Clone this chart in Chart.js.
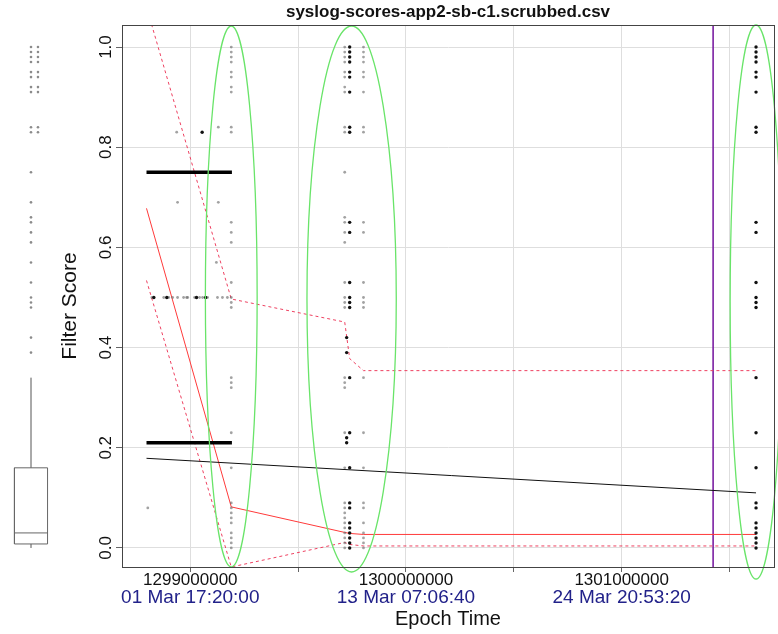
<!DOCTYPE html>
<html>
<head>
<meta charset="utf-8">
<script src="https://cdn.jsdelivr.net/npm/chart.js@4.4.1/dist/chart.umd.min.js"></script>
<style>
  body { margin: 0; background: #fff; }
  #wrap { position: relative; width: 778px; height: 634px; }
  #scores, #box { position: absolute; left: 0; top: 0; }
</style>
</head>
<body>
<div id="wrap">
  <canvas id="scores" width="778" height="634"></canvas>
  <canvas id="box" width="62" height="634"></canvas>
</div>
<script>
// axis ranges (epoch seconds / score)
const X_MIN = 1298683400, X_MAX = 1301706300;
const Y_MIN = -0.038, Y_MAX = 1.044;
const xTickValues = [1299000000, 1299500000, 1300000000, 1300500000, 1301000000, 1301500000];
const yTickValues = [0, 0.2, 0.4, 0.6, 0.8, 1.0];

// scattered scores before the first burst
const earlyTimes = [1298803000, 1298822000, 1298877000, 1298900000, 1298918000, 1298937000, 1298941000, 1298941000,
  1298969000, 1298983000, 1298988000, 1299020000, 1299043000, 1299057000, 1299080000, 1299121000, 1299126000,
  1299130000, 1299130000, 1299149000, 1299172000];
const earlyScores = [0.08, 0.50, 0.50, 0.50, 0.50, 0.83, 0.69, 0.50,
  0.50, 0.50, 0.50, 0.50, 0.50, 0.50, 0.50, 0.57, 0.50,
  0.84, 0.69, 0.50, 0.50];
const earlyDarkTimes = [1298831000, 1298891000, 1299029000, 1299055000, 1299071000];
const earlyDarkScores = [0.50, 0.50, 0.50, 0.83, 0.50];

// bursts
const burstATime = 1299190000;
const burstAScores = [1.0, 0.99, 0.98, 0.97, 0.95, 0.94, 0.92, 0.91, 0.84, 0.83, 0.65, 0.63, 0.61, 0.53, 0.50,
  0.49, 0.48, 0.34, 0.33, 0.32, 0.23, 0.16, 0.09, 0.08, 0.07, 0.06, 0.05, 0.03, 0.02, 0.01, 0.0];
const burstBTimes = [1299716000, 1299725000, 1299739000, 1299803000];
const burstBScoresFirst = [1.0, 0.99, 0.98, 0.97, 0.95, 0.94, 0.92, 0.91, 0.84, 0.83, 0.75, 0.66, 0.65, 0.63, 0.61,
  0.53, 0.50, 0.49, 0.48, 0.34, 0.33, 0.32, 0.23, 0.16, 0.09, 0.08, 0.07, 0.06, 0.05, 0.04, 0.03, 0.02, 0.01, 0.0];
const burstBScoresSingle = [0.42, 0.39, 0.22, 0.21];
const burstBScoresDense = [1.0, 0.99, 0.98, 0.97, 0.95, 0.94, 0.91, 0.84, 0.83, 0.65, 0.63, 0.53, 0.50, 0.49, 0.48,
  0.34, 0.23, 0.16, 0.09, 0.08, 0.05, 0.04, 0.03, 0.02, 0.01, 0.0];
const burstBScoresLast = [1.0, 0.99, 0.98, 0.97, 0.95, 0.94, 0.91, 0.84, 0.83, 0.65, 0.63, 0.53, 0.50, 0.49, 0.48,
  0.34, 0.23, 0.16, 0.09, 0.08, 0.05, 0.03, 0.02, 0.01, 0.0];
const burstCTime = 1301623000;
const burstCScores = [1.0, 0.99, 0.98, 0.97, 0.95, 0.94, 0.91, 0.84, 0.83, 0.65, 0.63, 0.53, 0.50, 0.49, 0.48,
  0.34, 0.23, 0.16, 0.09, 0.08, 0.05, 0.04, 0.03, 0.02, 0.01, 0.0];

// level bars over the training window
const levelTimes = [1298797000, 1299193000];
const levelScores = [0.75, 0.21];

// overall trend
const trendTimes = [1298797000, 1301623000];
const trendScores = [0.179, 0.110];

// fitted score with upper / lower band
const fitTimes = [1298797000, 1299190000, 1299716000, 1299739000, 1299803000, 1301623000];
const fitScores = [0.678, 0.082, 0.031, 0.029, 0.027, 0.027];
const upperScores = [1.08, 0.497, 0.451, 0.378, 0.354, 0.354];
const lowerScores = [0.534, -0.038, 0.011, 0.007, 0.004, 0.004];

// burst envelopes: centre time, half span (s), centre score, half range
const ellipseTimes = [1299190000, 1299748000, 1301623000];
const ellipseHalfSpans = [120000, 207000, 120000];
const ellipseMidScores = [0.502, 0.497, 0.491];
const ellipseHalfRanges = [0.540, 0.545, 0.553];

// alert marker
const alertTime = 1301424000;

// boxplot of all scores: low whisker, q1, median, q3, high whisker
const boxStats = [0.0, 0.008, 0.03, 0.16, 0.34];
const outlierScores = [1.0, 0.99, 0.98, 0.97, 0.95, 0.94, 0.92, 0.91, 0.84, 0.83, 0.75, 0.69, 0.66, 0.65, 0.63,
  0.61, 0.57, 0.53, 0.50, 0.49, 0.48, 0.42, 0.39];
const outlierScoresPaired = [1.0, 0.99, 0.98, 0.97, 0.95, 0.94, 0.92, 0.91, 0.84, 0.83];

Chart.defaults.font.family = '"Liberation Sans", Arial, Helvetica, sans-serif';
Chart.defaults.color = '#111';

const pts = (xs, ys) => ys.map((y, i) => ({ x: Array.isArray(xs) ? xs[i] : xs, y }));
const MONTHS = ['Jan', 'Feb', 'Mar', 'Apr', 'May', 'Jun', 'Jul', 'Aug', 'Sep', 'Oct', 'Nov', 'Dec'];
const two = n => String(n).padStart(2, '0');
function utcLabel(v) {
  const d = new Date(v * 1000);
  return two(d.getUTCDate()) + ' ' + MONTHS[d.getUTCMonth()] + ' ' +
    two(d.getUTCHours()) + ':' + two(d.getUTCMinutes()) + ':' + two(d.getUTCSeconds());
}

const light = { backgroundColor: 'rgba(100,100,100,0.6)', pointRadius: 1.4, borderWidth: 0, xAxisID: 'x' };
const dark = { backgroundColor: '#111', pointRadius: 1.7, borderWidth: 0, xAxisID: 'x' };
const line = (data, color, width, dash) => ({
  data, showLine: true, borderColor: color, borderWidth: width, borderDash: dash || [],
  pointRadius: 0, xAxisID: 'x', fill: false, tension: 0
});

const datasets = [
  { ...dark, data: pts(earlyDarkTimes, earlyDarkScores) },
  { ...light, data: pts(earlyTimes, earlyScores) },
  { ...light, data: pts(burstATime, burstAScores) },
  { ...light, data: pts(burstBTimes[0], burstBScoresFirst) },
  { ...dark, data: pts(burstBTimes[1], burstBScoresSingle) },
  { ...dark, data: pts(burstBTimes[2], burstBScoresDense) },
  { ...light, data: pts(burstBTimes[3], burstBScoresLast) },
  { ...dark, data: pts(burstCTime, burstCScores) },
  line(pts(levelTimes, [levelScores[0], levelScores[0]]), '#000', 3.5),
  line(pts(levelTimes, [levelScores[1], levelScores[1]]), '#000', 3.5),
  line(pts(trendTimes, trendScores), '#111', 1),
  line(pts(fitTimes, fitScores), '#ff3a3a', 1),
  line(pts(fitTimes, upperScores), '#ee4060', 1, [3, 3]),
  line(pts(fitTimes, lowerScores), '#ee4060', 1, [3, 3]),
  line(pts([alertTime, alertTime], [Y_MIN, Y_MAX]), '#7b1fa2', 1.6)
];

// green envelopes round each burst
const envelopes = {
  id: 'envelopes',
  afterDatasetsDraw(chart) {
    const { ctx, scales: { x, y } } = chart;
    ctx.save();
    ctx.strokeStyle = 'rgb(105,228,105)';
    ctx.lineWidth = 1.3;
    ellipseTimes.forEach((t, i) => {
      const cx = x.getPixelForValue(t);
      const rx = x.getPixelForValue(t + ellipseHalfSpans[i]) - cx;
      const cy = y.getPixelForValue(ellipseMidScores[i]);
      const ry = y.getPixelForValue(ellipseMidScores[i] - ellipseHalfRanges[i]) - cy;
      ctx.beginPath();
      ctx.ellipse(cx, cy, rx, ry, 0, 0, Math.PI * 2);
      ctx.stroke();
    });
    ctx.restore();
  }
};

// plot frame, rotated y labels, y title and main title
const frame = {
  id: 'frame',
  afterDraw(chart) {
    const { ctx, chartArea: a, scales: { y } } = chart;
    ctx.save();
    ctx.strokeStyle = '#444';
    ctx.lineWidth = 1;
    ctx.strokeRect(a.left + 0.5, a.top + 0.5, a.right - a.left, a.bottom - a.top);
    ctx.fillStyle = '#111';
    ctx.textAlign = 'center';
    ctx.textBaseline = 'middle';
    ctx.font = '17px "Liberation Sans", Arial, sans-serif';
    y.ticks.forEach(t => {
      ctx.save();
      ctx.translate(y.right - 16, y.getPixelForValue(t.value));
      ctx.rotate(-Math.PI / 2);
      ctx.fillText(t.value.toFixed(1), 0, 0);
      ctx.restore();
    });
    ctx.save();
    ctx.font = '21px "Liberation Sans", Arial, sans-serif';
    ctx.translate(y.right - 52, (a.top + a.bottom) / 2 + 10);
    ctx.rotate(-Math.PI / 2);
    ctx.fillText('Filter Score', 0, 0);
    ctx.restore();
    ctx.font = 'bold 17px "Liberation Sans", Arial, sans-serif';
    ctx.fillText('syslog-scores-app2-sb-c1.scrubbed.csv', (a.left + a.right) / 2, 12);
    ctx.restore();
  }
};

const xTicks = s => { s.ticks = xTickValues.map(v => ({ value: v })); };

new Chart(document.getElementById('scores'), {
  type: 'scatter',
  data: { datasets },
  plugins: [envelopes, frame],
  options: {
    responsive: false,
    animation: false,
    events: [],
    layout: { padding: { top: 25, right: 0, bottom: 0, left: 0 } },
    plugins: { legend: { display: false }, tooltip: { enabled: false } },
    scales: {
      x: {
        type: 'linear', position: 'bottom', min: X_MIN, max: X_MAX,
        afterBuildTicks: xTicks,
        afterFit: s => { s.height = 22; },
        ticks: {
          autoSkip: false, maxRotation: 0, minRotation: 0, padding: 0, color: '#111',
          font: { size: 17, lineHeight: 1.0 },
          callback: v => (v % 1000000 === 0 ? String(v) : '')
        },
        grid: { color: '#dedede', tickColor: '#666', tickLength: 5 },
        border: { color: '#444' }
      },
      x2: {
        type: 'linear', position: 'bottom', min: X_MIN, max: X_MAX,
        afterBuildTicks: xTicks,
        afterFit: s => { s.height = 45; },
        ticks: {
          autoSkip: false, maxRotation: 0, minRotation: 0, padding: -1, color: '#22228a',
          font: { size: 19, lineHeight: 1.0 },
          callback: v => (v % 1000000 === 0 ? utcLabel(v) : '')
        },
        grid: { display: false, drawTicks: false },
        border: { display: false },
        title: { display: true, text: 'Epoch Time', color: '#111', font: { size: 20, lineHeight: 1.2 }, padding: { top: 0, bottom: 3 } }
      },
      y: {
        min: Y_MIN, max: Y_MAX,
        afterBuildTicks: s => { s.ticks = yTickValues.map(v => ({ value: v })); },
        afterFit: s => { s.width = 122; },
        ticks: { display: false },
        grid: { color: '#dedede', tickColor: '#666', tickLength: 6 },
        border: { color: '#444' }
      }
    }
  }
});

// side boxplot sharing the score range
const BOX_X = 31, BOX_HALF = 19, PAIR_OFFSET = 8;
const boxLine = (data, color) => ({ data, showLine: true, borderColor: color, borderWidth: 1, pointRadius: 0, tension: 0 });
new Chart(document.getElementById('box'), {
  type: 'scatter',
  data: {
    datasets: [
      boxLine([
        { x: BOX_X - BOX_HALF, y: boxStats[1] }, { x: BOX_X + BOX_HALF, y: boxStats[1] },
        { x: BOX_X + BOX_HALF, y: boxStats[3] }, { x: BOX_X - BOX_HALF, y: boxStats[3] },
        { x: BOX_X - BOX_HALF, y: boxStats[1] }
      ], '#666'),
      boxLine([{ x: BOX_X - BOX_HALF, y: boxStats[2] }, { x: BOX_X + BOX_HALF, y: boxStats[2] }], '#666'),
      boxLine([{ x: BOX_X, y: boxStats[3] }, { x: BOX_X, y: boxStats[4] }], '#555'),
      boxLine([{ x: BOX_X, y: boxStats[0] }, { x: BOX_X, y: boxStats[1] }], '#555'),
      { data: pts(BOX_X, outlierScores), backgroundColor: 'rgba(90,90,90,0.7)', pointRadius: 1.3, borderWidth: 0 },
      { data: pts(BOX_X + PAIR_OFFSET, outlierScoresPaired), backgroundColor: 'rgba(90,90,90,0.7)', pointRadius: 1.3, borderWidth: 0 }
    ]
  },
  options: {
    responsive: false,
    animation: false,
    events: [],
    layout: { padding: { top: 25, bottom: 67, left: 0, right: 0 } },
    plugins: { legend: { display: false }, tooltip: { enabled: false } },
    scales: {
      x: { type: 'linear', min: 0, max: 62, display: false },
      y: { min: Y_MIN, max: Y_MAX, display: false }
    }
  }
});
</script>
</body>
</html>
